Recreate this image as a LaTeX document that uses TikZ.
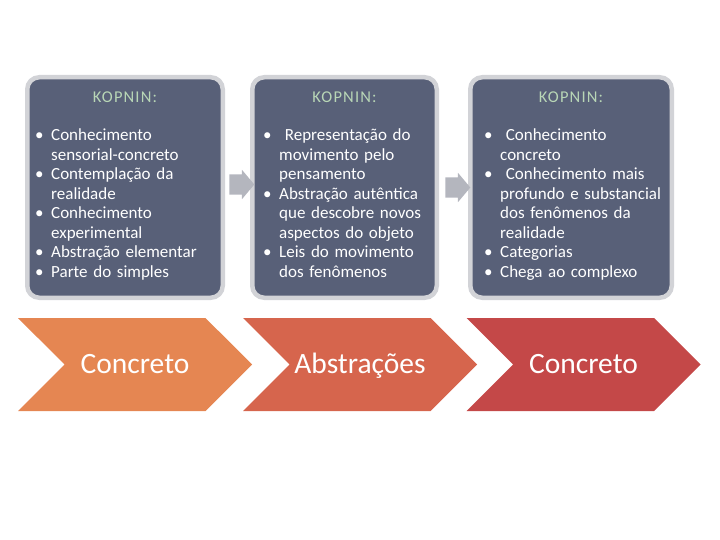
\documentclass[tikz,border=0pt]{standalone}
\usepackage{fontspec}
\setmainfont{Carlito}
\usetikzlibrary{positioning, calc, shapes.arrows, shapes.symbols}

\definecolor{boxfill}{RGB}{88,96,120}
\definecolor{boxrim}{RGB}{210,211,215}
\definecolor{arrowgray}{RGB}{180,182,190}
\definecolor{titlegreen}{RGB}{184,214,182}
\definecolor{chevA}{RGB}{229,134,82}
\definecolor{chevB}{RGB}{214,101,77}
\definecolor{chevC}{RGB}{196,72,72}

% one bullet item with hanging indent
\newcommand{\bul}{\par\hangindent=16pt\hangafter=1\noindent\makebox[16pt][l]{\textbullet}}

\tikzset{
    kbox/.style = {draw=boxrim, line width=4.5pt, fill=boxfill, rounded corners=12pt, minimum height=220.5pt, inner sep=0pt},
    ktitle/.style = {text=titlegreen, inner sep=0pt, font=\fontsize{16.5}{18}\selectfont\addfontfeature{LetterSpace=7}},
    klist/.style = {text=white, text width=#1, align=left, anchor=north west, inner sep=0pt, font=\fontsize{17}{19.5}\selectfont},
    passarrow/.style = {single arrow, fill=arrowgray, minimum height=25pt, inner xsep=0pt, inner ysep=10pt, single arrow head extend=4.5pt, single arrow tip angle=100},
    chevron/.style = {signal, signal from=west, signal to=east, fill=#1, minimum width=234pt, minimum height=93pt, inner sep=0pt, text height=24pt, text depth=6pt, text=white, font=\fontsize{29.5}{32}\selectfont}
}

\begin{document}
\begin{tikzpicture}[x=1pt, y=-1pt]
    \useasboundingbox (0,0) rectangle (720,540);

    % draw the three boxes
    \node[kbox, minimum width=195.5pt] (box1) at (125,187.5) {};
    \node[kbox, minimum width=184.5pt] (box2) at (344.5,187.5) {};
    \node[kbox, minimum width=201.5pt] (box3) at (571,187.5) {};

    % titles
    \node[ktitle, below=17pt of box1.north] (title1) {KOPNIN:};
    \node[ktitle, below=17pt of box2.north] (title2) {KOPNIN:};
    \node[ktitle, below=17pt of box3.north] (title3) {KOPNIN:};

    % bullet lists
    \node[klist=190pt] (list1) at ($(box1.north west)+(10,46)$) {%
        \bul Conhecimento\newline sensorial-concreto
        \bul Contemplação da\newline realidade
        \bul Conhecimento\newline experimental
        \bul Abstração elementar
        \bul Parte do simples\par};
    \node[klist=180pt] (list2) at ($(box2.north west)+(13,46)$) {%
        \bul\ Representação do\newline movimento pelo\newline pensamento
        \bul Abstração autêntica\newline que descobre novos\newline aspectos do objeto
        \bul Leis do movimento\newline dos fenômenos\par};
    \node[klist=195pt] (list3) at ($(box3.north west)+(16,46)$) {%
        \bul\ Conhecimento\newline concreto
        \bul\ Conhecimento mais\newline profundo e substancial\newline dos fenômenos da\newline realidade
        \bul Categorias
        \bul Chega ao complexo\par};

    % arrows between the boxes
    \node[passarrow] (arr1) at ($(box1.east)!0.5!(box2.west)+(0,-3)$) {};
    \node[passarrow] (arr2) at ($(box2.east)!0.5!(box3.west)$) {};

    % chevrons
    \node[chevron=chevA] (chev1) at (135,364.5) {Concreto};
    \node[chevron=chevB] (chev2) at (360,364.5) {Abstrações};
    \node[chevron=chevC] (chev3) at (583.5,364.5) {Concreto};
\end{tikzpicture}
\end{document}
